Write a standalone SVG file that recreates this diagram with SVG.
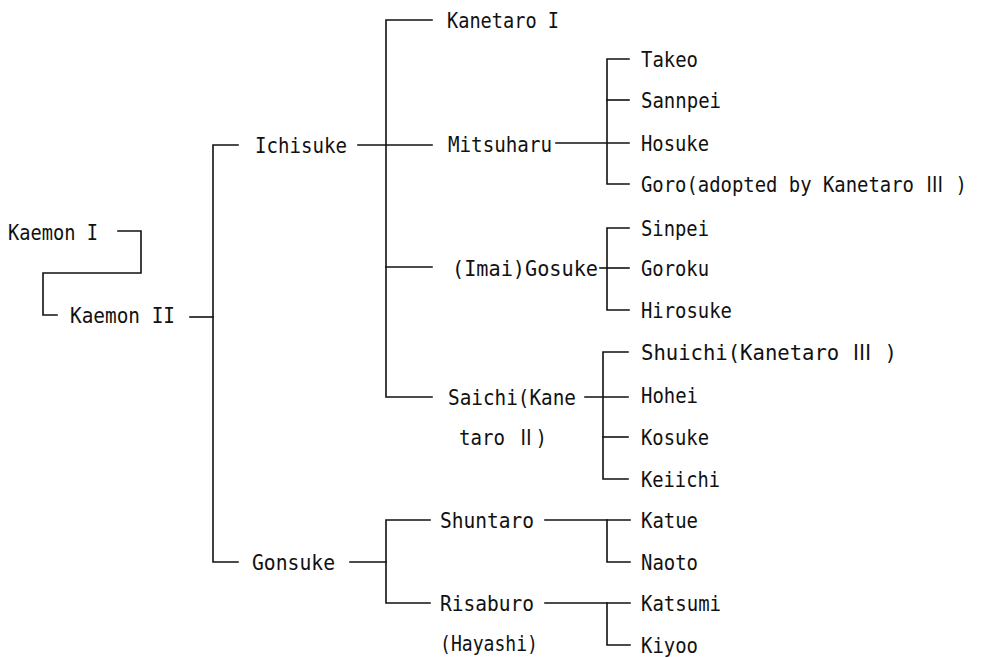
<svg xmlns="http://www.w3.org/2000/svg" width="989" height="658" viewBox="0 0 989 658">
  <style>
    .bg { fill: #ffffff; }
    .name { font-family: "DejaVu Sans Mono", "Liberation Mono", "Noto Sans CJK JP", monospace; font-size: 22px; fill: #111111; }
    .link { fill: none; stroke: #111111; stroke-width: 1.6; stroke-linecap: square; }
  </style>
  <rect class="bg" x="0" y="0" width="989" height="658"/>

  <!-- family lines -->
  <g id="connectors">
    <path class="link" d="M118,231 H141 V273 H43 V315 H57"/>
    <path class="link" d="M190,317 H213"/>
    <path class="link" d="M238,145 H213 V562 H238"/>
    <path class="link" d="M358,145 H432"/>
    <path class="link" d="M432,20 H386 V397 H432"/>
    <path class="link" d="M386,267 H432"/>
    <path class="link" d="M556,143 H629"/>
    <path class="link" d="M629,59 H607 V184 H629"/>
    <path class="link" d="M607,100 H629"/>
    <path class="link" d="M600,268 H629"/>
    <path class="link" d="M629,228 H607 V310 H629"/>
    <path class="link" d="M585,397 H628"/>
    <path class="link" d="M628,352 H603 V479 H628"/>
    <path class="link" d="M603,437 H628"/>
    <path class="link" d="M350,562 H386"/>
    <path class="link" d="M430,520 H386 V603 H430"/>
    <path class="link" d="M545,520 H630"/>
    <path class="link" d="M607,520 V562 H630"/>
    <path class="link" d="M545,603 H630"/>
    <path class="link" d="M607,603 V645 H630"/>
  </g>

  <!-- generation 1 -->
  <g id="kaemon1"><text class="name" x="8" y="240" textLength="90" lengthAdjust="spacingAndGlyphs">Kaemon I</text></g>
  <g id="kaemon2"><text class="name" x="70" y="323" textLength="105" lengthAdjust="spacingAndGlyphs">Kaemon II</text></g>

  <!-- generation 2 -->
  <g id="ichisuke"><text class="name" x="255" y="153" textLength="92" lengthAdjust="spacingAndGlyphs">Ichisuke</text></g>
  <g id="gonsuke"><text class="name" x="252" y="570" textLength="83" lengthAdjust="spacingAndGlyphs">Gonsuke</text></g>

  <!-- generation 3 -->
  <g id="kanetaro1"><text class="name" x="447" y="28" textLength="112" lengthAdjust="spacingAndGlyphs">Kanetaro I</text></g>
  <g id="mitsuharu"><text class="name" x="448" y="152" textLength="104" lengthAdjust="spacingAndGlyphs">Mitsuharu</text></g>
  <g id="gosuke"><text class="name" x="452" y="276" textLength="146" lengthAdjust="spacingAndGlyphs">(Imai)Gosuke</text></g>
  <g id="saichi">
    <text class="name" x="448" y="405" textLength="128" lengthAdjust="spacingAndGlyphs">Saichi(Kane</text>
    <text class="name" x="459" y="445" textLength="88" lengthAdjust="spacingAndGlyphs">taro Ⅱ)</text>
  </g>
  <g id="shuntaro"><text class="name" x="440" y="528" textLength="94" lengthAdjust="spacingAndGlyphs">Shuntaro</text></g>
  <g id="risaburo">
    <text class="name" x="440" y="611" textLength="94" lengthAdjust="spacingAndGlyphs">Risaburo</text>
    <text class="name" x="440" y="651" textLength="98" lengthAdjust="spacingAndGlyphs">(Hayashi)</text>
  </g>

  <!-- generation 4 -->
  <g id="takeo"><text class="name" x="641" y="67" textLength="57" lengthAdjust="spacingAndGlyphs">Takeo</text></g>
  <g id="sannpei"><text class="name" x="641" y="108" textLength="80" lengthAdjust="spacingAndGlyphs">Sannpei</text></g>
  <g id="hosuke"><text class="name" x="641" y="151" textLength="68" lengthAdjust="spacingAndGlyphs">Hosuke</text></g>
  <!-- long label: narrowed by a horizontal scale so it stays inside the frame -->
  <g id="goro" transform="translate(641,192) scale(0.859,1)"><text class="name" x="0" y="0">Goro(adopted by Kanetaro Ⅲ )</text></g>
  <g id="sinpei"><text class="name" x="641" y="236" textLength="68" lengthAdjust="spacingAndGlyphs">Sinpei</text></g>
  <g id="goroku"><text class="name" x="641" y="276" textLength="68" lengthAdjust="spacingAndGlyphs">Goroku</text></g>
  <g id="hirosuke"><text class="name" x="641" y="318" textLength="91" lengthAdjust="spacingAndGlyphs">Hirosuke</text></g>
  <g id="shuichi"><text class="name" x="641" y="360" textLength="256" lengthAdjust="spacingAndGlyphs">Shuichi(Kanetaro  Ⅲ )</text></g>
  <g id="hohei"><text class="name" x="641" y="403" textLength="57" lengthAdjust="spacingAndGlyphs">Hohei</text></g>
  <g id="kosuke"><text class="name" x="641" y="445" textLength="68" lengthAdjust="spacingAndGlyphs">Kosuke</text></g>
  <g id="keiichi"><text class="name" x="641" y="487" textLength="79" lengthAdjust="spacingAndGlyphs">Keiichi</text></g>
  <g id="katue"><text class="name" x="641" y="528" textLength="57" lengthAdjust="spacingAndGlyphs">Katue</text></g>
  <g id="naoto"><text class="name" x="641" y="570" textLength="57" lengthAdjust="spacingAndGlyphs">Naoto</text></g>
  <g id="katsumi"><text class="name" x="641" y="611" textLength="80" lengthAdjust="spacingAndGlyphs">Katsumi</text></g>
  <g id="kiyoo"><text class="name" x="641" y="653" textLength="57" lengthAdjust="spacingAndGlyphs">Kiyoo</text></g>
</svg>
